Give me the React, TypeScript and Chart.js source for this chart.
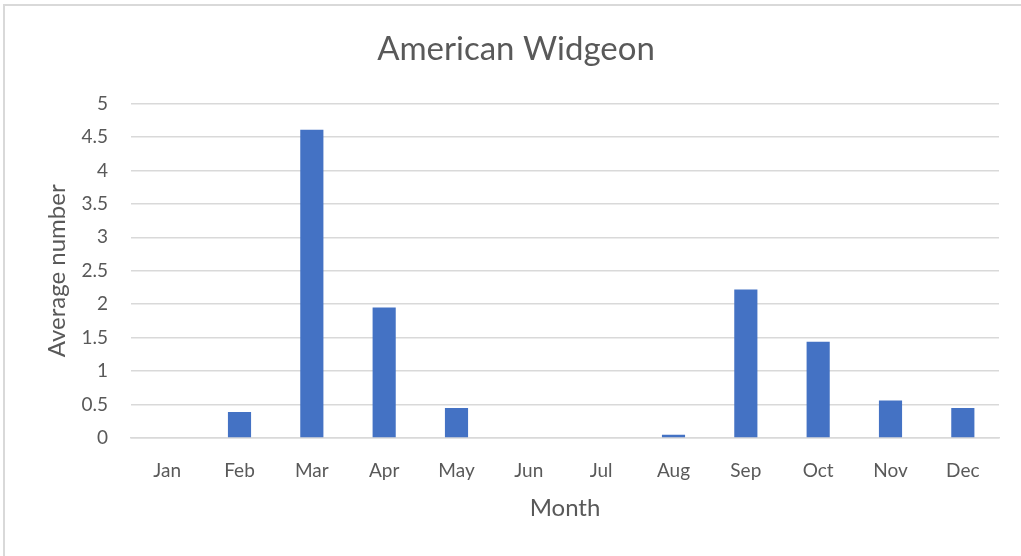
import React, { useEffect, useRef } from "react";
import { Chart, registerables } from "chart.js";

Chart.register(...registerables);

const months = ["Jan", "Feb", "Mar", "Apr", "May", "Jun", "Jul", "Aug", "Sep", "Oct", "Nov", "Dec"];
const averageNumber = [0, 0.39, 4.61, 1.95, 0.45, 0, 0, 0.05, 2.22, 1.44, 0.56, 0.45];
const chartTitle = "American Widgeon";
const xTitle = "Month";
const yTitle = "Average number";

const FONT = "Lato, 'Open Sans', sans-serif";
const TEXT = "#595959";
const GRID = "#d9d9d9";

export default function App() {
  const ref = useRef<HTMLCanvasElement | null>(null);

  useEffect(() => {
    if (!ref.current) return;
    const chart = new Chart(ref.current, {
      type: "bar",
      data: {
        labels: months,
        datasets: [
          {
            label: yTitle,
            data: averageNumber,
            backgroundColor: "#4472C4",
            categoryPercentage: 1,
            barPercentage: 0.32,
          },
        ],
      },
      options: {
        animation: false,
        responsive: false,
        maintainAspectRatio: false,
        layout: { padding: { left: 33, right: 22, top: 0, bottom: 0 } },
        plugins: {
          legend: { display: false },
          tooltip: { enabled: false },
          title: {
            display: true,
            text: chartTitle,
            color: TEXT,
            font: { family: FONT, size: 33, weight: "normal" as any },
            padding: { top: 30, bottom: 34 },
          },
        },
        scales: {
          x: {
            grid: { display: false, drawTicks: false },
            border: { display: true, color: GRID, width: 1.5 },
            ticks: { color: TEXT, font: { family: FONT, size: 19 }, padding: 21, maxRotation: 0 },
            title: {
              display: true,
              text: xTitle,
              color: TEXT,
              font: { family: FONT, size: 24 },
              padding: { top: 0, bottom: 33 },
            },
            afterFit: (s: any) => {
              s.height = 118;
            },
          },
          y: {
            min: 0,
            max: 5,
            ticks: {
              stepSize: 0.5,
              color: TEXT,
              font: { family: FONT, size: 19 },
              padding: 23,
              callback: (v: any) => String(Number(v)),
            },
            grid: { color: GRID, lineWidth: 1.5, drawTicks: false },
            border: { display: false },
            title: {
              display: true,
              text: yTitle,
              color: TEXT,
              font: { family: FONT, size: 24 },
              padding: { top: 10, bottom: 0 },
            },
            afterFit: (s: any) => {
              s.width = 98;
            },
          },
        },
      },
    });
    return () => chart.destroy();
  }, []);

  return (
    <div
      style={{
        position: "fixed",
        left: 0,
        top: 0,
        width: 1021,
        height: 556,
        overflow: "hidden",
        background: "#fff",
      }}
    >
      <div
        style={{
          position: "absolute",
          left: 3,
          top: 4,
          width: 1100,
          height: 700,
          border: "2px solid #d9d9d9",
          boxSizing: "border-box",
        }}
      />
      <canvas ref={ref} width={1021} height={556} style={{ position: "absolute", left: 0, top: 0 }} />
    </div>
  );
}
